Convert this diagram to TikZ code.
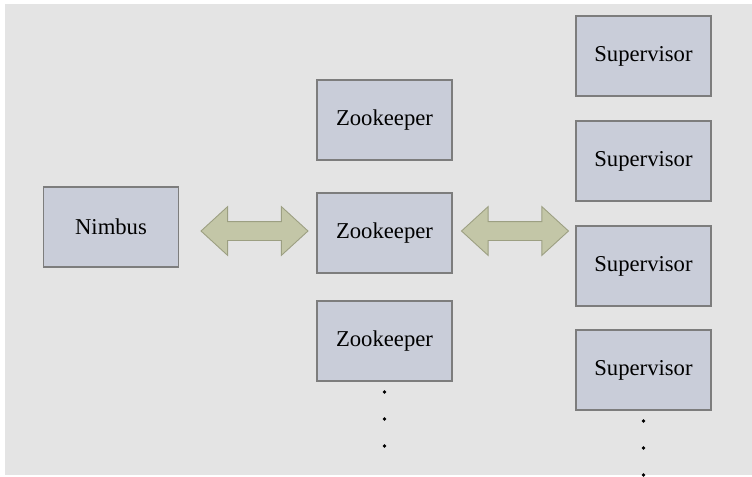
\documentclass[tikz,border=0pt]{standalone}
\usepackage{fontspec}
\setmainfont{Liberation Serif}
\usetikzlibrary{shapes.arrows, positioning}
\definecolor{bggray}{HTML}{E4E4E4}
\definecolor{boxfill}{HTML}{C9CDD9}
\definecolor{boxline}{HTML}{7D7D7D}
\definecolor{olive}{HTML}{C3C6A7}
\definecolor{oliveline}{HTML}{9C9F82}
\tikzset{
    server/.style={draw=boxline, fill=boxfill, line width=0.8pt,
        minimum width=2.7cm, minimum height=1.6cm, inner sep=0pt,
        font=\fontsize{12.9}{15}\selectfont},
    link/.style={double arrow, draw=oliveline, fill=olive, line width=0.5pt,
        minimum height=2.14cm, inner xsep=0pt, inner ysep=0.18cm,
        text height=0pt, text depth=0pt,
        double arrow head extend=0.3cm, double arrow tip angle=85}
}

\begin{document}
\begin{tikzpicture}[x=0.02cm, y=-0.02cm]
    \useasboundingbox (0,0) rectangle (752,477);
    \fill[white] (0,0) rectangle (752,477);
    \fill[bggray] (5,4) rectangle (752,475);

    % nimbus on the left
    \node[server] (nimbus) at (111,227) {Nimbus};

    % zookeeper column
    \node[server] (zk1) at (384.5,120) {Zookeeper};
    \node[server] (zk2) at (384.5,233) {Zookeeper};
    \node[server] (zk3) at (384.5,341) {Zookeeper};

    % supervisor column
    \foreach \i/\y in {1/56, 2/161, 3/266, 4/370} {
        \node[server] (sv\i) at (643.5,\y) {Supervisor};
    }

    % links between the columns
    \node[link] (lnkL) at (254.5,231) {};
    \node[link] (lnkR) at (515,231) {};

    % more below
    \foreach \y in {392, 419, 446} {
        \fill (384.5,\y) circle (1.8);
    }
    \foreach \y in {421, 448, 475} {
        \fill (643.5,\y) circle (1.8);
    }
\end{tikzpicture}
\end{document}
